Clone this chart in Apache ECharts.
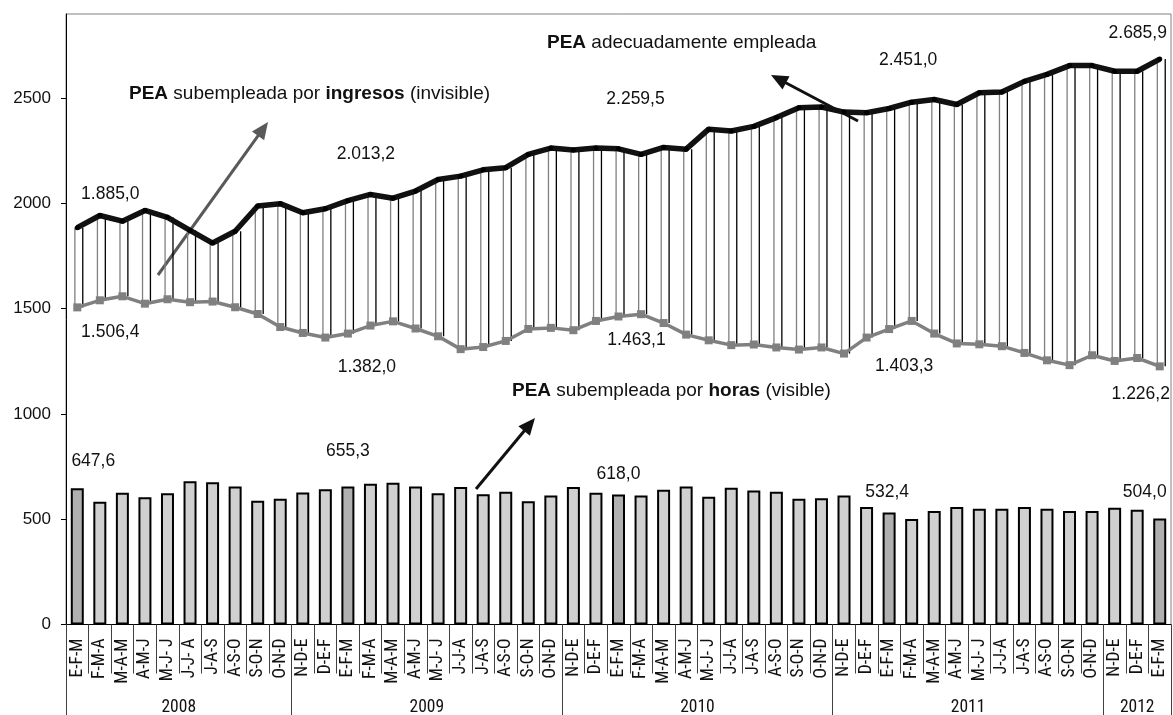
<!DOCTYPE html>
<html>
<head>
<meta charset="utf-8">
<script src="https://cdn.jsdelivr.net/npm/echarts@6/dist/echarts.min.js"></script>
<style>
html,body{margin:0;padding:0;background:#fff;}
#chart{width:1173px;height:715px;}
</style>
</head>
<body>
<div id="chart"></div>
<script>
// ---------------- DATA ----------------
const categories = [
  'E-F-M','F-M-A','M-A-M','A-M-J','M-J- J','J-J- A','J-A-S','A-S-O','S-O-N','O-N-D',
  'N-D-E','D-E-F','E-F-M','F-M-A','M-A-M','A-M-J','M-J- J','J-J-A','J-A-S','A-S-O','S-O-N','O-N-D',
  'N-D-E','D-E-F','E-F-M','F-M-A','M-A-M','A-M-J','M-J- J','J-J-A','J-A-S','A-S-O','S-O-N','O-N-D',
  'N-D-E','D-E-F','E-F-M','F-M-A','M-A-M','A-M-J','M-J- J','J-J-A','J-A-S','A-S-O','S-O-N','O-N-D',
  'N-D-E','D-E-F','E-F-M'
];
const yearLabels = ['2008','2009','2010','2011','2012'];
const yearSpans = [10, 12, 12, 12, 3];
const yTicks = [0, 500, 1000, 1500, 2000, 2500];

// PEA adecuadamente empleada
const adequate = [1885.0,1943,1916,1967,1934,1872,1812,1868,1988,1999,1956,1975,
  2013.2,2043,2025,2059,2114,2130,2160,2170,2233,2263,2254,2263,
  2259.5,2233,2266,2258,2353,2344,2366,2408,2455,2458,2434,2431,
  2451.0,2481,2494,2470,2526,2529,2580,2613,2655,2655,2628,2628,
  2685.9];
// PEA subempleada por ingresos (invisible)
const income = [1506.4,1540,1559,1524,1545,1531,1534,1507,1475,1413,1385,1363,
  1382.0,1420,1440,1406,1369,1308,1318,1347,1404,1409,1398,1442,
  1463.1,1474,1432,1377,1350,1327,1330,1316,1306,1316,1287,1363,
  1403.3,1442,1382,1335,1331,1322,1290,1255,1232,1279,1252,1266,
  1226.2];
// PEA subempleada por horas (visible)
const hours = [647.6,583,626,604,624,680,676,656,588,597,627,643,
  655.3,668,673,656,623,653,619,630,585,613,653,626,
  618.0,613,640,656,607,649,637,630,597,600,613,558,
  532.4,501,539,558,550,550,558,550,539,539,554,545,
  504.0];
const labelledIdx = [0, 12, 24, 36, 48];

// ---------------- STYLE ----------------
const FONT = '"Liberation Sans", Arial, sans-serif';
const NARROW = '"Liberation Sans Narrow", "Arial Narrow", "Roboto Condensed", sans-serif';
const adequateLabelOffsets = [[33,-34],[18,-47],[17,-50],[19,-48],[-22,-26]];
const incomeLabelOffsets = [[33,25],[19,34],[18,24],[15,37],[-19,28]];
const hoursLabelOffsets = [[16,-18],[0,-26],[0,-11],[-2,-11],[-15,-17]];

function fmt(v) {
  const s = v.toFixed(1).split('.');
  const int = s[0].replace(/\B(?=(\d{3})+(?!\d))/g, '.');
  return int + ',' + s[1];
}
function withLabels(arr, offsets, position, extra) {
  return arr.map((v, i) => {
    const k = labelledIdx.indexOf(i);
    const item = { value: v };
    if (k >= 0) {
      item.label = Object.assign({
        show: true, position: position, distance: 0, offset: offsets[k],
        formatter: fmt(v), fontFamily: FONT, fontSize: 17.5, color: '#111'
      }, extra || {});
    }
    return item;
  });
}
const hoursData = withLabels(hours, hoursLabelOffsets, 'top').map((it, i) => {
  if (categories[i] === 'E-F-M') it.itemStyle = { color: '#b0b0b0' };
  return it;
});

// year axis boundaries and centers
const yearBounds = [0];
yearSpans.forEach(s => yearBounds.push(yearBounds[yearBounds.length - 1] + s));
const yearCenters = yearSpans.map((s, i) => yearBounds[i] + s / 2);

function arrow(x1, y1, x2, y2, color, w) {
  const dx = x2 - x1, dy = y2 - y1, L = Math.sqrt(dx * dx + dy * dy);
  const ux = dx / L, uy = dy / L;
  const hl = 17, hw = 7.5;
  const bx = x2 - ux * hl, by = y2 - uy * hl;
  return {
    type: 'group', children: [
      { type: 'line', shape: { x1: x1, y1: y1, x2: bx + ux * 2, y2: by + uy * 2 }, style: { stroke: color, lineWidth: w } },
      { type: 'polygon', shape: { points: [[x2, y2], [bx - uy * hw, by + ux * hw], [bx + uy * hw, by - ux * hw]] }, style: { fill: color } }
    ]
  };
}
function annot(left, top, text) {
  return {
    type: 'text', left: left, top: top,
    style: {
      text: text, fontFamily: FONT, fontSize: 19, fill: '#111',
      rich: { b: { fontWeight: 'bold', fontFamily: FONT, fontSize: 19, fill: '#111' } }
    }
  };
}

const chart = echarts.init(document.getElementById('chart'), null, { renderer: 'canvas' });
chart.setOption({
  backgroundColor: '#fff',
  animation: false,
  grid: {
    left: 66, right: 2, top: 14, bottom: 90.5, show: true,
    borderColor: '#808080', borderWidth: 1, containLabel: false, outerBoundsMode: 'none'
  },
  xAxis: [
    {
      type: 'category', data: categories, position: 'bottom', boundaryGap: true,
      axisLine: { show: true, lineStyle: { color: '#000', width: 1 } },
      axisTick: { show: true, interval: 0, length: 49, lineStyle: { color: '#404040', width: 1 } },
      axisLabel: { interval: 0, rotate: 90, margin: 14, fontFamily: NARROW, fontSize: 17.5, color: '#111' },
      splitLine: { show: false }
    },
    {
      type: 'value', min: 0, max: categories.length, position: 'bottom',
      axisLine: { show: false },
      axisTick: { show: true, customValues: yearBounds, length: 91, lineStyle: { color: '#404040', width: 1 } },
      axisLabel: {
        show: true, customValues: yearCenters, margin: 74.5, fontFamily: NARROW, fontSize: 17.5, color: '#111',
        formatter: v => { const k = yearCenters.indexOf(v); return k >= 0 ? yearLabels[k] : ''; }
      },
      splitLine: { show: false }
    }
  ],
  yAxis: {
    type: 'value', min: 0, max: 2900, interval: 500,
    axisLine: { show: true, lineStyle: { color: '#000', width: 1 } },
    axisTick: { show: true, length: 5, customValues: yTicks, lineStyle: { color: '#000' } },
    axisLabel: { customValues: yTicks, margin: 15, fontFamily: FONT, fontSize: 17, color: '#111', formatter: v => String(v) },
    splitLine: { show: false }
  },
  series: [
    {
      type: 'custom', name: 'rango', z: 1, xAxisIndex: 0,
      data: categories.map((c, i) => [i, income[i], adequate[i]]),
      encode: { x: 0, y: [1, 2] },
      renderItem: function (params, api) {
        const lo = api.coord([api.value(0), api.value(1)]);
        const hi = api.coord([api.value(0), api.value(2)]);
        return {
          type: 'group', children: [
            { type: 'line', shape: { x1: lo[0] - 2.4, y1: lo[1], x2: hi[0] - 2.4, y2: hi[1] }, style: { stroke: '#808080', lineWidth: 1.3 } },
            { type: 'line', shape: { x1: lo[0] + 5.5, y1: lo[1], x2: hi[0] + 5.5, y2: hi[1] }, style: { stroke: '#000', lineWidth: 1.3 } }
          ]
        };
      }
    },
    {
      type: 'bar', name: 'PEA subempleada por horas (visible)', xAxisIndex: 0, z: 2,
      data: hoursData, barWidth: 13,
      itemStyle: { color: '#d0d0d0', borderColor: '#000', borderWidth: 2 }
    },
    {
      type: 'line', name: 'PEA subempleada por ingresos (invisible)', xAxisIndex: 0, z: 3,
      data: withLabels(income, incomeLabelOffsets, 'inside'),
      symbol: 'rect', symbolSize: 8, showAllSymbol: true,
      lineStyle: { color: '#808080', width: 3.5 },
      itemStyle: { color: '#808080' }
    },
    {
      type: 'line', name: 'PEA adecuadamente empleada', xAxisIndex: 0, z: 4,
      data: withLabels(adequate, adequateLabelOffsets, 'inside'),
      symbol: 'circle', symbolSize: 5, showAllSymbol: true,
      lineStyle: { color: '#111', width: 5.5 },
      itemStyle: { color: '#000' }
    }
  ],
  graphic: [
    annot(129, 84, '{b|PEA} subempleada por {b|ingresos} (invisible)'),
    annot(547, 33, '{b|PEA} adecuadamente empleada'),
    annot(512, 381, '{b|PEA} subempleada por {b|horas} (visible)'),
    arrow(158, 275, 268, 122, '#595959', 3),
    arrow(858, 121, 771, 75, '#111', 3),
    arrow(476, 489, 535, 418, '#111', 3)
  ]
});
</script>
</body>
</html>
